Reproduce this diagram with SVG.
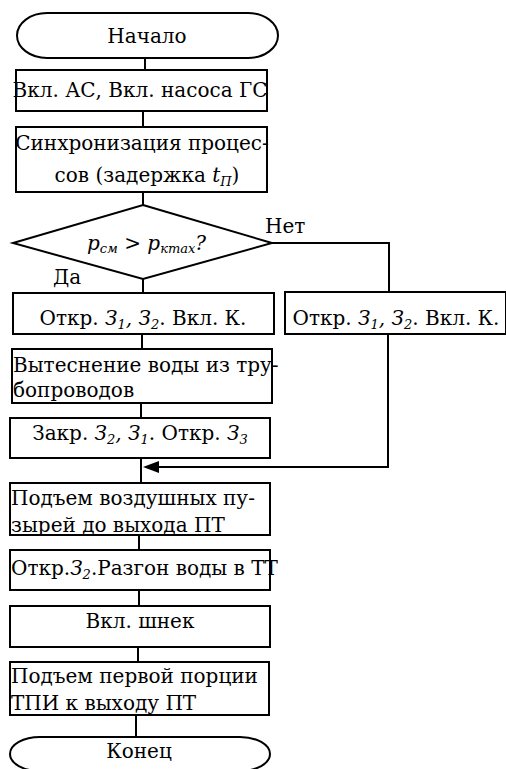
<svg xmlns="http://www.w3.org/2000/svg" width="506" height="769" viewBox="0 0 506 769">
<rect width="506" height="769" fill="#fff"/>
<g id="connectors" fill="none" stroke="#000" stroke-width="2">
<line x1="145" y1="58" x2="145" y2="70"/>
<line x1="143" y1="111" x2="143" y2="127"/>
<line x1="143" y1="192" x2="143" y2="205"/>
<line x1="143" y1="279" x2="143" y2="293"/>
<polyline points="272,243 389,243 389,292"/>
<line x1="142" y1="334" x2="142" y2="349"/>
<line x1="141" y1="403" x2="141" y2="418"/>
<line x1="141" y1="458" x2="141" y2="483"/>
<polyline points="388,334 388,467 156,467"/>
<polygon points="143,467 159,461 159,473" fill="#000" stroke="none"/>
<line x1="139" y1="535" x2="139" y2="550"/>
<line x1="139" y1="590" x2="139" y2="606"/>
<line x1="138" y1="647" x2="138" y2="662"/>
<line x1="136" y1="715" x2="136" y2="737"/>
</g>
<g id="nodes" fill="#fff" stroke="#000" stroke-width="2">
<rect id="start-shape" x="17" y="13" width="261" height="45" rx="30" ry="22.5"/>
<rect id="box1-shape" x="16" y="70" width="251" height="41"/>
<rect id="box2-shape" x="16" y="127" width="251" height="65"/>
<polygon id="decision-shape" points="143,205 272,243 143,279 13,243"/>
<rect id="box3-shape" x="13" y="293" width="261" height="41"/>
<rect id="box3r-shape" x="285" y="292" width="221" height="42"/>
<rect id="box4-shape" x="12" y="349" width="260" height="54"/>
<rect id="box5-shape" x="10" y="418" width="260" height="40"/>
<rect id="box6-shape" x="10" y="483" width="260" height="52"/>
<rect id="box7-shape" x="10" y="550" width="260" height="40"/>
<rect id="box8-shape" x="10" y="606" width="260" height="41"/>
<rect id="box9-shape" x="10" y="662" width="259" height="53"/>
<rect id="end-shape" x="10" y="737" width="260" height="34" rx="30" ry="17"/>
</g>
<g id="labels" fill="#000" font-family="DejaVu Serif" font-size="20">
<text id="start" text-anchor="middle" x="147" y="43">Начало</text>
<text id="box1" text-anchor="middle" x="140" y="97">Вкл. АС, Вкл. насоса ГС</text>
<g id="box2">
<text text-anchor="middle" x="142" y="150">Синхронизация процес-</text>
<text text-anchor="middle" x="147" y="182">сов (задержка <tspan font-style="italic">t</tspan><tspan font-style="italic" font-size="13" dy="4">П</tspan><tspan dy="-4">)</tspan></text>
</g>
<g id="decision">
<text x="87" y="250"><tspan font-style="italic">p</tspan><tspan font-style="italic" font-size="13" dy="3">см</tspan><tspan dy="-3"> &gt; </tspan><tspan font-style="italic">p</tspan><tspan font-style="italic" font-size="13" dy="3">кmax</tspan><tspan font-style="italic" dy="-3">?</tspan></text>
<text x="265" y="233">Нет</text>
<text x="53" y="284">Да</text>
</g>
<text id="box3" text-anchor="middle" x="143" y="325">Откр. <tspan font-style="italic">З</tspan><tspan font-style="italic" font-size="13" dy="4">1</tspan><tspan font-style="italic" dy="-4">, З</tspan><tspan font-style="italic" font-size="13" dy="4">2</tspan><tspan dy="-4">. Вкл. К.</tspan></text>
<text id="box3r" text-anchor="middle" x="396" y="325">Откр. <tspan font-style="italic">З</tspan><tspan font-style="italic" font-size="13" dy="4">1</tspan><tspan font-style="italic" dy="-4">, З</tspan><tspan font-style="italic" font-size="13" dy="4">2</tspan><tspan dy="-4">. Вкл. К.</tspan></text>
<g id="box4">
<text x="13" y="372">Вытеснение воды из тру-</text>
<text x="13" y="397">бопроводов</text>
</g>
<text id="box5" text-anchor="middle" x="140" y="440">Закр. <tspan font-style="italic">З</tspan><tspan font-style="italic" font-size="13" dy="4">2</tspan><tspan font-style="italic" dy="-4">, З</tspan><tspan font-style="italic" font-size="13" dy="4">1</tspan><tspan dy="-4">. Откр. </tspan><tspan font-style="italic">З</tspan><tspan font-style="italic" font-size="13" dy="4">3</tspan></text>
<g id="box6">
<text x="11" y="505">Подъем воздушных пу-</text>
<text x="11" y="532">зырей до выхода ПТ</text>
</g>
<text id="box7" x="11" y="575">Откр.<tspan font-style="italic">З</tspan><tspan font-style="italic" font-size="13" dy="4">2</tspan><tspan dy="-4">.Разгон воды в ТТ</tspan></text>
<text id="box8" text-anchor="middle" x="140" y="628">Вкл. шнек</text>
<g id="box9">
<text x="11" y="683">Подъем первой порции</text>
<text x="11" y="710">ТПИ к выходу ПТ</text>
</g>
<text id="end" text-anchor="middle" x="139" y="758">Конец</text>
</g>
</svg>
